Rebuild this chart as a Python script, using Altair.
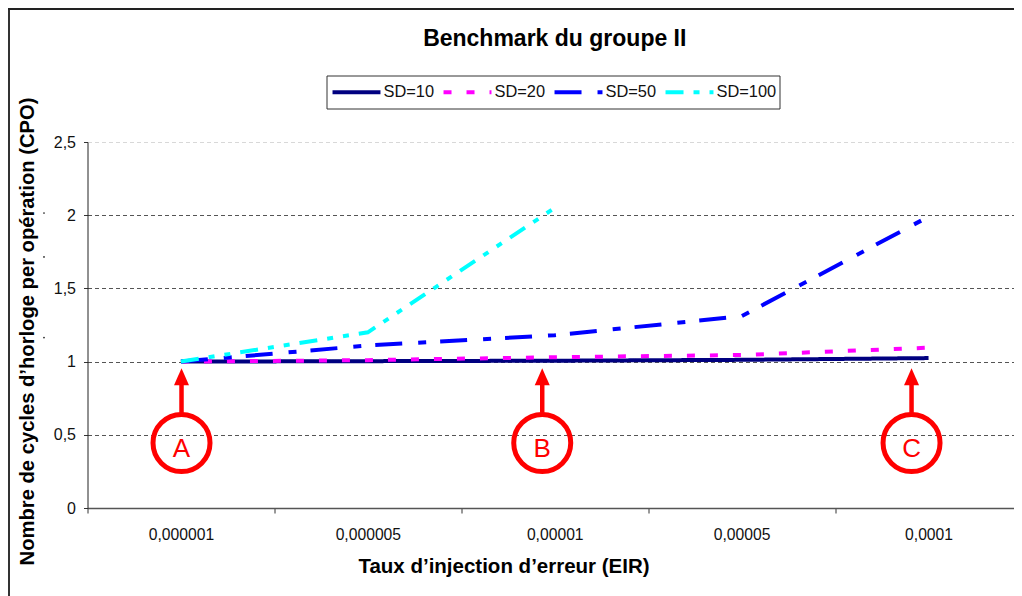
import altair as alt
import pandas as pd

FONT = "Liberation Sans"

categories = ["0,000001", "0,000005", "0,00001", "0,00005", "0,0001"]
series_names = ["SD=10", "SD=20", "SD=50", "SD=100"]
sd10 = [1.0, 1.003, 1.006, 1.012, 1.024]
sd20 = [1.0, 1.01, 1.03, 1.045, 1.095]
sd50 = [1.0, 1.11, 1.18, 1.31, 1.99]
sd100 = [1.0, 1.2, 2.05]
series_values = [sd10, sd20, sd50, sd100]
colors = ["#000080", "#ff00ff", "#0000ff", "#00ffff"]
dashes = [[1, 0], [8, 15], [27, 16, 8, 14], [18, 10, 6, 10, 6, 10]]
widths = [4, 4, 4.5, 3]
Y_TITLE = "Nombre de cycles d\u2019horloge per op\u00e9ration (CPO)"

rows = []
for name, vals in zip(series_names, series_values):
    for c, v in zip(categories, vals):
        rows.append({"cat": c, "sd": name, "v": v})
df = pd.DataFrame(rows)

marker_labels = ["A", "B", "C"]
marker_pos = [0.503, 2.433, 4.409]   # position along the axis, in category widths
marker = pd.DataFrame({"label": marker_labels, "pos": marker_pos})
speck_values = [2.015, 1.715, 1.164]
specks = pd.DataFrame({"s": speck_values})

X_RANGE = [0, 934.5]
y_scale = alt.Scale(domain=[0, 2.5], nice=False)
lines = alt.Chart(df).mark_line(strokeCap="butt", strokeJoin="miter", clip=False).encode(
    x=alt.X("cat:N", sort=categories,
            scale=alt.Scale(domain=categories, paddingInner=0, paddingOuter=0, round=False, range=X_RANGE),
            axis=alt.Axis(title="Taux d\u2019injection d\u2019erreur (EIR)", labelAngle=0, tickBand="extent",
                          labelFont=FONT, labelFontSize=15.7, labelColor="#111", labelPadding=14,
                          tickColor="#333", tickSize=5, domainColor="#555", domainWidth=1.5,
                          titleFont=FONT, titleFontSize=20.5, titleFontWeight="bold", titleColor="#000",
                          titleX=416, titleY=64, titleAlign="center", titleBaseline="alphabetic", grid=False)),
    y=alt.Y("v:Q", scale=y_scale,
            axis=alt.Axis(title=Y_TITLE, values=[0, 0.5, 1, 1.5, 2, 2.5],
                          labelExpr="replace(toString(datum.value), '.', ',')",
                          labelFont=FONT, labelFontSize=16, labelColor="#111", labelPadding=8,
                          tickColor="#333", tickSize=4, domainColor="#222", domainWidth=1,
                          grid=True, gridDash=[4, 3], gridWidth=1,
                          gridColor={"condition": {"test": "datum.value === 2.5", "value": "#d8d8d8"}, "value": "#555555"},
                          titleFont=FONT, titleFontSize=20.2, titleFontWeight="bold", titleColor="#000",
                          titleX=-54, titleY=189, titleAngle=270, titleAlign="center", titleBaseline="alphabetic")),
    color=alt.Color("sd:N", sort=series_names, scale=alt.Scale(domain=series_names, range=colors),
                    legend=alt.Legend(title=None, orient="none", legendX=238, legendY=-81, direction="horizontal",
                                      symbolType="stroke", symbolSize=2300, labelFont=FONT, labelFontSize=16.4,
                                      labelColor="#111", labelOffset=1, columnPadding=1, padding=5,
                                      columns=4, symbolStrokeWidth=4)),
    strokeDash=alt.StrokeDash("sd:N", sort=series_names, scale=alt.Scale(domain=series_names, range=dashes), legend=None),
    strokeWidth=alt.StrokeWidth("sd:N", sort=series_names, scale=alt.Scale(domain=series_names, range=widths), legend=None),
    detail="sd:N",
)

pos_x = alt.X("pos:Q", scale=alt.Scale(domain=[0, 5], nice=False, zero=False, range=X_RANGE), axis=None)
rings = alt.Chart(marker).mark_point(
    shape="circle", size=3249, filled=False, color="#ff0000", strokeWidth=5, opacity=1
).encode(x=pos_x, y=alt.datum(0.444, scale=y_scale))
shafts = alt.Chart(marker).mark_rule(color="#ff0000", strokeWidth=4.5).encode(
    x=pos_x, y=alt.datum(0.65, scale=y_scale), y2=alt.datum(0.85))
heads = alt.Chart(marker).mark_point(
    shape="M0,-0.567L-0.5,0.567L0.5,0.567Z", size=900, filled=True, color="#ff0000", opacity=1, strokeWidth=0
).encode(x=pos_x, y=alt.datum(0.897, scale=y_scale))
letters = alt.Chart(marker).mark_text(
    font=FONT, fontSize=26, color="#ff0000", baseline="alphabetic", align="center"
).encode(x=pos_x, y=alt.datum(0.348, scale=y_scale), text="label:N")
speck_marks = alt.Chart(specks).mark_point(
    shape="circle", size=3, filled=True, color="#222222", opacity=1, strokeWidth=0, clip=False
).encode(x=alt.value(-43.5), y=alt.Y("s:Q", scale=y_scale, title=Y_TITLE))

frame_src = alt.Chart(pd.DataFrame({"k": [0]}))
frame_left = frame_src.mark_rule(color="#333333", strokeWidth=2, clip=False).encode(
    x=alt.value(-78.5), y=alt.value(-134), y2=alt.value(454))
frame_top = frame_src.mark_rule(color="#222222", strokeWidth=2, clip=False).encode(
    x=alt.value(-79.5), x2=alt.value(934.5), y=alt.value(-133))
legend_box = frame_src.mark_rect(fill="#ffffff", stroke="#333333", strokeWidth=1).encode(
    x=alt.value(239.5), x2=alt.value(692.5), y=alt.value(-66), y2=alt.value(-33))

chart = (
    alt.layer(frame_left, frame_top, legend_box, lines, rings, shafts, heads, letters, speck_marks)
    .resolve_scale(x="independent", y="shared", color="independent", strokeDash="independent", strokeWidth="independent")
    .properties(
        width=926.5, height=366,
        padding={"left": 79.5, "top": 134, "right": 0, "bottom": 88},
        autosize=alt.AutoSizeParams(type="none", contains="content"),
        title=alt.TitleParams("Benchmark du groupe II", font=FONT, fontSize=23, fontWeight="bold", color="#000",
                              anchor="middle", offset=-44, dx=4),
        background="#ffffff",
    )
    .configure_view(stroke=None)
)
chart.save("out.html", embed_options={"renderer": "svg", "actions": False})
